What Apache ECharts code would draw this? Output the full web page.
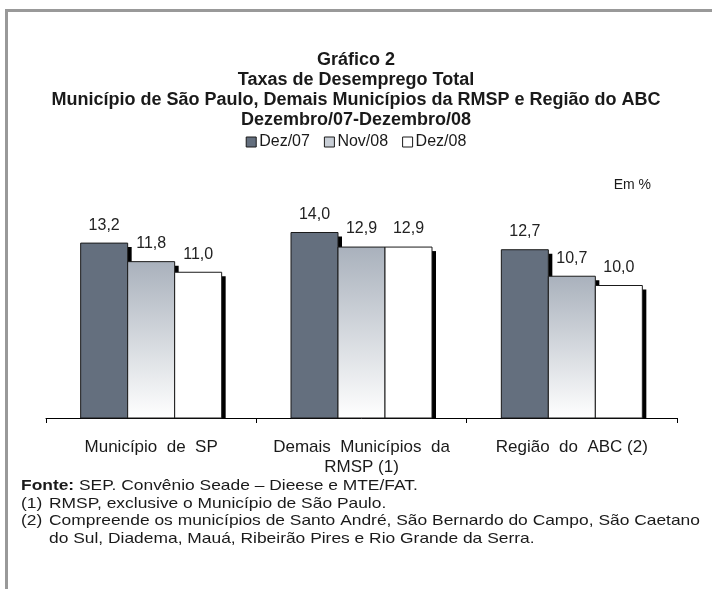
<!DOCTYPE html>
<html>
<head>
<meta charset="utf-8">
<script src="https://cdn.jsdelivr.net/npm/echarts@6/dist/echarts.min.js"></script>
<style>
html, body { margin: 0; padding: 0; background: #fff; }
#main { width: 712px; height: 589px; }
</style>
</head>
<body>
<div id="main"></div>
<script>
// dados
var categorias = ['Município  de  SP', 'Demais  Municípios  da\nRMSP (1)', 'Região  do  ABC (2)'];
var periodos = ['Dez/07', 'Nov/08', 'Dez/08'];
var dez07 = [13.2, 14.0, 12.7];
var nov08 = [11.8, 12.9, 10.7];
var dez08 = [11.0, 12.9, 10.0];

var titulo = 'Gráfico 2\nTaxas de Desemprego Total\nMunicípio de São Paulo, Demais Municípios da RMSP e Região do ABC\nDezembro/07-Dezembro/08';
// notas de rodape: [marcador, texto]
var notas = [
	['', '{b|Fonte:} SEP. Convênio Seade – Dieese e MTE/FAT.'],
	['(1)', 'RMSP, exclusive o Município de São Paulo.'],
	['(2)', 'Compreende os municípios de Santo André, São Bernardo do Campo, São Caetano'],
	['', 'do Sul, Diadema, Mauá, Ribeirão Pires e Rio Grande da Serra.']
];

var fonte = 'Liberation Sans, Arial, sans-serif';

var cores = [
	'#646f7e',
	new echarts.graphic.LinearGradient(0, 0, 0, 1, [
		{ offset: 0, color: '#a9b1bc' },
		{ offset: 1, color: '#ffffff' }
	]),
	'#ffffff'
];

var larguraBarra = 47;

function desenhaBarra(params, api) {
	var idx = api.value(0);
	var val = api.value(1);
	var base = api.coord([idx, 0]);
	var topo = api.coord([idx, val]);
	var x = base[0] - 1.5 * larguraBarra + params.seriesIndex * larguraBarra;
	var h = base[1] - topo[1];
	return {
		type: 'group',
		children: [
			{ // sombra preta a direita
				type: 'rect',
				shape: { x: x + larguraBarra, y: topo[1] + 4, width: 4, height: h - 4 },
				style: { fill: '#000' }
			},
			{
				type: 'rect',
				shape: { x: x, y: topo[1], width: larguraBarra, height: h },
				style: { fill: cores[params.seriesIndex], stroke: '#1a1a1a', lineWidth: 1 }
			},
			{
				type: 'text',
				style: {
					x: x + larguraBarra / 2,
					y: topo[1] - 10,
					text: val.toFixed(1).replace('.', ','),
					align: 'center',
					verticalAlign: 'bottom',
					font: '16px ' + fonte,
					fill: '#222'
				}
			}
		]
	};
}

function serie(nome, valores, i) {
	return {
		name: nome,
		type: 'custom',
		renderItem: desenhaBarra,
		itemStyle: { color: i === 1 ? '#c8ced6' : cores[i], borderColor: '#1a1a1a', borderWidth: 1 },
		encode: { x: 0, y: 1 },
		data: valores.map(function (v, k) { return [k, v]; })
	};
}

// textos do rodape, esticados na horizontal como no original
var rodape = [];
notas.forEach(function (n, i) {
	var y = 486 + i * 17.5;
	if (n[0]) {
		rodape.push({
			type: 'text', x: 21, y: y, scaleX: 1.16,
			style: { x: 0, y: 0, text: n[0], verticalAlign: 'middle', font: '15px ' + fonte, fill: '#1a1a1a' }
		});
	}
	rodape.push({
		type: 'text', x: i === 0 ? 21 : 49, y: y, scaleX: 1.16,
		style: {
			x: 0, y: 0, text: n[1], verticalAlign: 'middle', font: '15px ' + fonte, fill: '#1a1a1a',
			rich: { b: { fontWeight: 'bold', fontSize: 15, fontFamily: fonte } }
		}
	});
});

var myChart = echarts.init(document.getElementById('main'));

var option = {
	animation: false,
	title: {
		text: titulo,
		left: 'center',
		top: 45,
		textStyle: {
			fontFamily: fonte,
			fontSize: 18,
			fontWeight: 'bold',
			color: '#1a1a1a',
			lineHeight: 20
		}
	},
	legend: {
		data: periodos,
		top: 129,
		left: 'center',
		icon: 'rect',
		itemWidth: 10,
		itemHeight: 10,
		itemGap: 14,
		itemStyle: { borderColor: '#1a1a1a', borderWidth: 1 },
		textStyle: { fontFamily: fonte, fontSize: 16, color: '#1a1a1a', padding: [0, 0, 0, -2] }
	},
	grid: {
		left: 46,
		right: 35,
		top: 206,
		bottom: 171,
		containLabel: false
	},
	xAxis: {
		type: 'category',
		data: categorias,
		axisLine: { show: true, lineStyle: { color: '#000', width: 1 } },
		axisTick: { show: true, interval: 0, length: 5, lineStyle: { color: '#000' } },
		axisLabel: {
			interval: 0,
			hideOverlap: false,
			margin: 19,
			fontFamily: fonte,
			fontSize: 17,
			color: '#1a1a1a',
			lineHeight: 20
		}
	},
	yAxis: {
		type: 'value',
		min: 0,
		max: 16,
		show: false
	},
	series: [
		serie(periodos[0], dez07, 0),
		serie(periodos[1], nov08, 1),
		serie(periodos[2], dez08, 2)
	],
	graphic: [
		{ // moldura
			type: 'line',
			shape: { x1: 6.5, y1: 10.5, x2: 712, y2: 10.5 },
			style: { stroke: '#999', lineWidth: 3 }
		},
		{
			type: 'line',
			shape: { x1: 6.5, y1: 9, x2: 6.5, y2: 589 },
			style: { stroke: '#999', lineWidth: 3 }
		},
		{
			type: 'text',
			style: { x: 651, y: 185, text: 'Em %', align: 'right', verticalAlign: 'middle', font: '14px ' + fonte, fill: '#1a1a1a' }
		}
	].concat(rodape)
};

myChart.setOption(option);
</script>
</body>
</html>
